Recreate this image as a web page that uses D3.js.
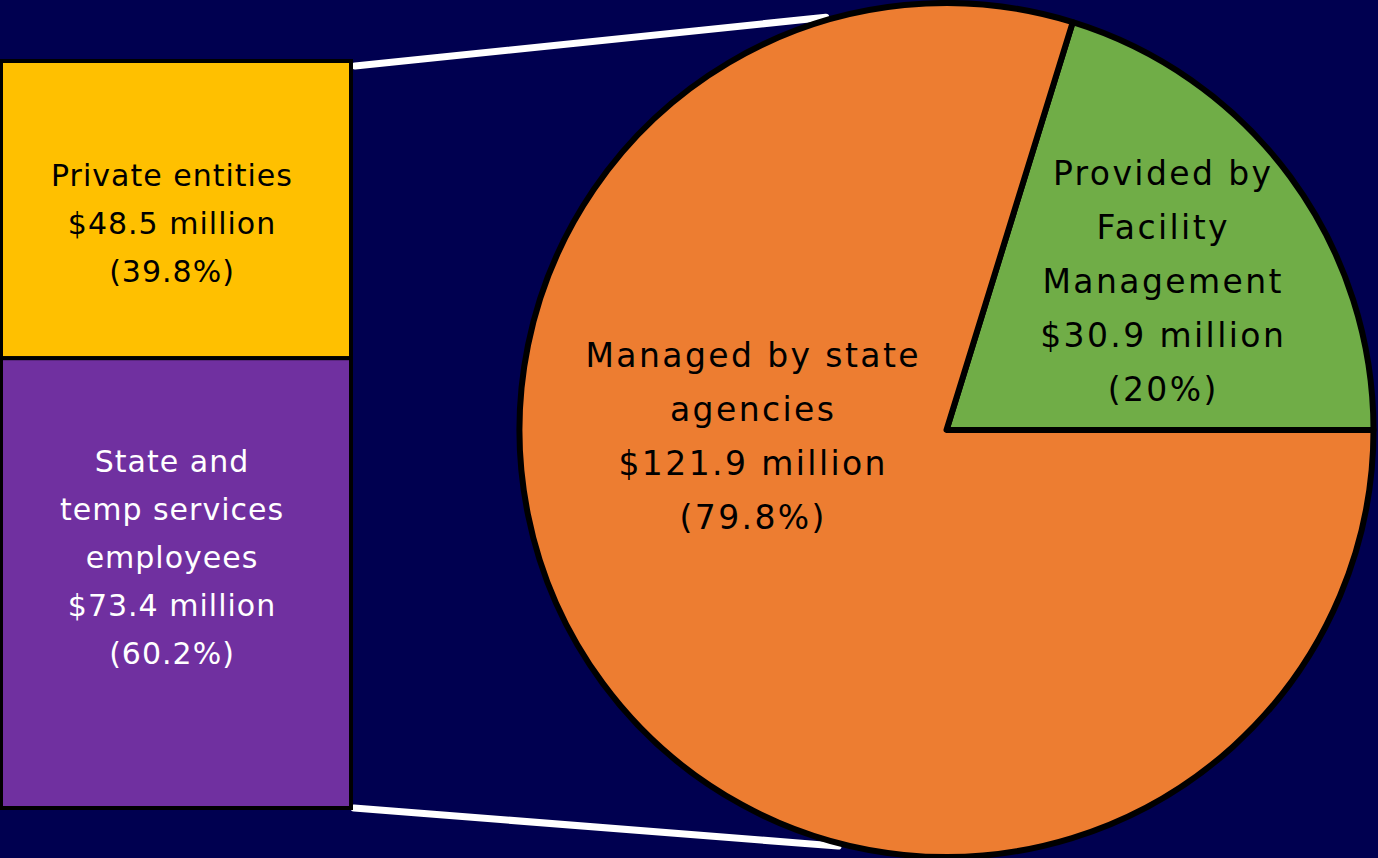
<!DOCTYPE html>
<html>
<head>
<meta charset="utf-8">
<script src="https://cdn.jsdelivr.net/npm/d3@7"></script>
<style>
  html, body { margin: 0; padding: 0; background: #000050; }
  svg { display: block; }
  text { font-family: "DejaVu Sans", sans-serif; }
</style>
</head>
<body>
<div id="chart"></div>
<script>
// pie: how the money is handled
var pieNames = ["Provided by Facility Management", "Managed by state agencies"];
var pieValues = [30.9, 121.9];
var piePcts = ["20%", "79.8%"];
var pieLines = [
  ["Provided by", "Facility", "Management", "$30.9 million", "(20%)"],
  ["Managed by state", "agencies", "$121.9 million", "(79.8%)"]
];

// bar: breakdown of the state agency slice
var barNames = ["Private entities", "State and temp services employees"];
var barValues = [48.5, 73.4];
var barLines = [
  ["Private entities", "$48.5 million", "(39.8%)"],
  ["State and", "temp services", "employees", "$73.4 million", "(60.2%)"]
];

var W = 1378, H = 858;
var pieColors = ["#70AD47", "#ED7D31"];
var barColors = ["#FFC000", "#7030A0"];
var barText = ["#000", "#fff"];

var svg = d3.select("#chart").append("svg")
    .attr("width", W)
    .attr("height", H);

svg.append("rect").attr("width", W).attr("height", H).attr("fill", "#000050");

// pie geometry
var cx = 946.5, cy = 430, r = 427;
var total = d3.sum(pieValues);
var start = Math.PI / 2 - 2 * Math.PI * pieValues[0] / total;

var pie = d3.pie().sort(null)
    .startAngle(start)
    .endAngle(start + 2 * Math.PI);
var arc = d3.arc().innerRadius(0).outerRadius(r);

// connector lines (drawn under the pie)
var bx0 = 1, bx1 = 351;
var y = d3.scaleLinear().domain([0, d3.sum(barValues)]).range([61, 808]);

var topAng = -16.3 * Math.PI / 180, botAng = 194.6 * Math.PI / 180;
svg.append("line")
    .attr("x1", bx1 + 4).attr("y1", y(0) + 5)
    .attr("x2", cx + (r + 3) * Math.sin(topAng)).attr("y2", cy - (r + 3) * Math.cos(topAng))
    .attr("stroke", "#fff").attr("stroke-width", 7).attr("stroke-linecap", "round");
svg.append("line")
    .attr("x1", bx1 + 3).attr("y1", y(d3.sum(barValues)))
    .attr("x2", cx + (r + 3) * Math.sin(botAng)).attr("y2", cy - (r + 3) * Math.cos(botAng))
    .attr("stroke", "#fff").attr("stroke-width", 7).attr("stroke-linecap", "round");

var pg = svg.append("g").attr("transform", "translate(" + cx + "," + cy + ")");
pg.selectAll("path")
  .data(pie(pieValues))
  .enter().append("path")
    .attr("d", arc)
    .attr("fill", function(d, i) { return pieColors[i]; })
    .attr("stroke", "#000")
    .attr("stroke-width", 6)
    .attr("stroke-linejoin", "round");

// pie labels
var pieLabelPos = [[1162, 173], [752, 355]];
var pieLH = 54;
pieLines.forEach(function(lines, i) {
  var t = svg.append("text")
      .attr("text-anchor", "middle")
      .attr("font-size", 33)
      .attr("letter-spacing", 2.4)
      .attr("fill", "#000");
  lines.forEach(function(s, j) {
    t.append("tspan")
      .attr("x", pieLabelPos[i][0] + 1.2)
      .attr("y", pieLabelPos[i][1] + j * pieLH)
      .attr("dy", "0.35em")
      .text(s);
  });
});

// stacked bar
var stacked = [];
var acc = 0;
barValues.forEach(function(v, i) {
  stacked.push({ y0: acc, y1: acc + v, i: i });
  acc += v;
});

svg.selectAll(".seg")
  .data(stacked)
  .enter().append("rect")
    .attr("class", "seg")
    .attr("x", bx0)
    .attr("y", function(d) { return y(d.y0); })
    .attr("width", bx1 - bx0)
    .attr("height", function(d) { return y(d.y1) - y(d.y0); })
    .attr("fill", function(d) { return barColors[d.i]; })
    .attr("stroke", "#000")
    .attr("stroke-width", 4);

var barTop = [175, 461];
var barLH = 48;
barLines.forEach(function(lines, i) {
  var t = svg.append("text")
      .attr("text-anchor", "middle")
      .attr("font-size", 30)
      .attr("letter-spacing", 1)
      .attr("fill", barText[i]);
  lines.forEach(function(s, j) {
    t.append("tspan")
      .attr("x", (bx0 + bx1) / 2 - 4)
      .attr("y", barTop[i] + j * barLH)
      .attr("dy", "0.35em")
      .text(s);
  });
});
</script>
</body>
</html>
